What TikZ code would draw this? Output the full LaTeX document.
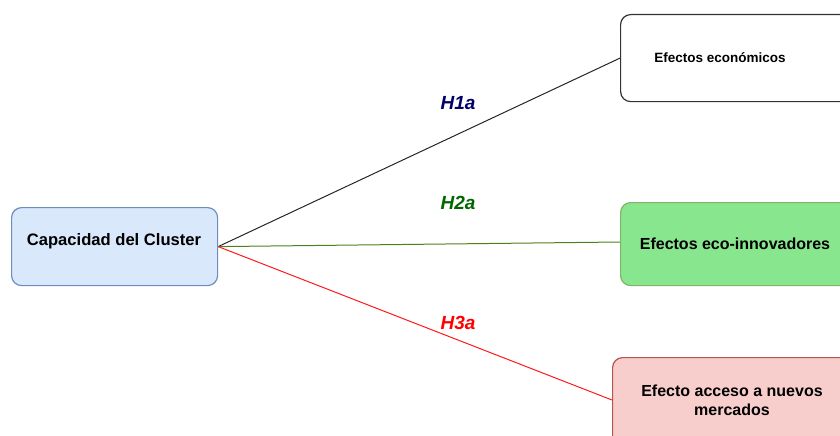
\documentclass[tikz,border=0pt]{standalone}
\usepackage{fontspec}
\setmainfont{Liberation Sans}
\begin{document}
\begin{tikzpicture}[x=1pt,y=-1pt,
  box/.style={draw, rounded corners=10pt, line width=1.2pt, inner sep=0pt, anchor=north west},
  lbl/.style={font=\fontsize{16}{19}\selectfont\bfseries, align=center},
  hyp/.style={font=\fontsize{19}{22}\selectfont\bfseries\itshape},
  conn/.style={line width=1pt}]
\definecolor{bluefill}{HTML}{DAE8FC}
\definecolor{bluedraw}{HTML}{6C8EBF}
\definecolor{greenfill}{HTML}{88E68E}
\definecolor{greendraw}{HTML}{82B366}
\definecolor{redfill}{HTML}{F8CECC}
\definecolor{reddraw}{HTML}{B85450}
\definecolor{navy}{HTML}{000066}
\definecolor{dgreen}{HTML}{006600}
\definecolor{lgreen}{HTML}{4D7F1F}
\useasboundingbox (0,0) rectangle (840,436);
\node[box, fill=bluefill, draw=bluedraw, minimum width=206pt, minimum height=78pt] (cap) at (11,207) {};
\node[lbl, font=\fontsize{16.6}{19}\selectfont\bfseries] (capt) at (114,241) {Capacidad del Cluster};
\node[box, fill=white, draw=black!80, minimum width=240pt, minimum height=87pt] (eco) at (620,14) {};
\node[lbl, font=\fontsize{13.5}{16}\selectfont\bfseries] (ecot) at (720,58) {Efectos económicos};
\node[box, fill=greenfill, draw=greendraw, minimum width=240pt, minimum height=83pt] (inn) at (620,202) {};
\node[lbl] (innt) at (735,244) {Efectos eco-innovadores};
\node[box, fill=redfill, draw=reddraw, minimum width=240pt, minimum height=100pt] (mer) at (612,357) {};
\node[lbl] (mert) at (732,400) {Efecto acceso a nuevos\\mercados};
\draw[conn, draw=black!85] (cap.east) -- (eco.west);
\draw[conn, draw=lgreen] (cap.east) -- (inn.west |- 0,242);
\draw[conn, draw=red!90] (cap.east) -- (mer.west |- 0,400);
\node[hyp, text=navy] (h1) at (458,103) {H1a};
\node[hyp, text=dgreen] (h2) at (458,203) {H2a};
\node[hyp, text=red] (h3) at (458,323) {H3a};
\end{tikzpicture}
\end{document}
